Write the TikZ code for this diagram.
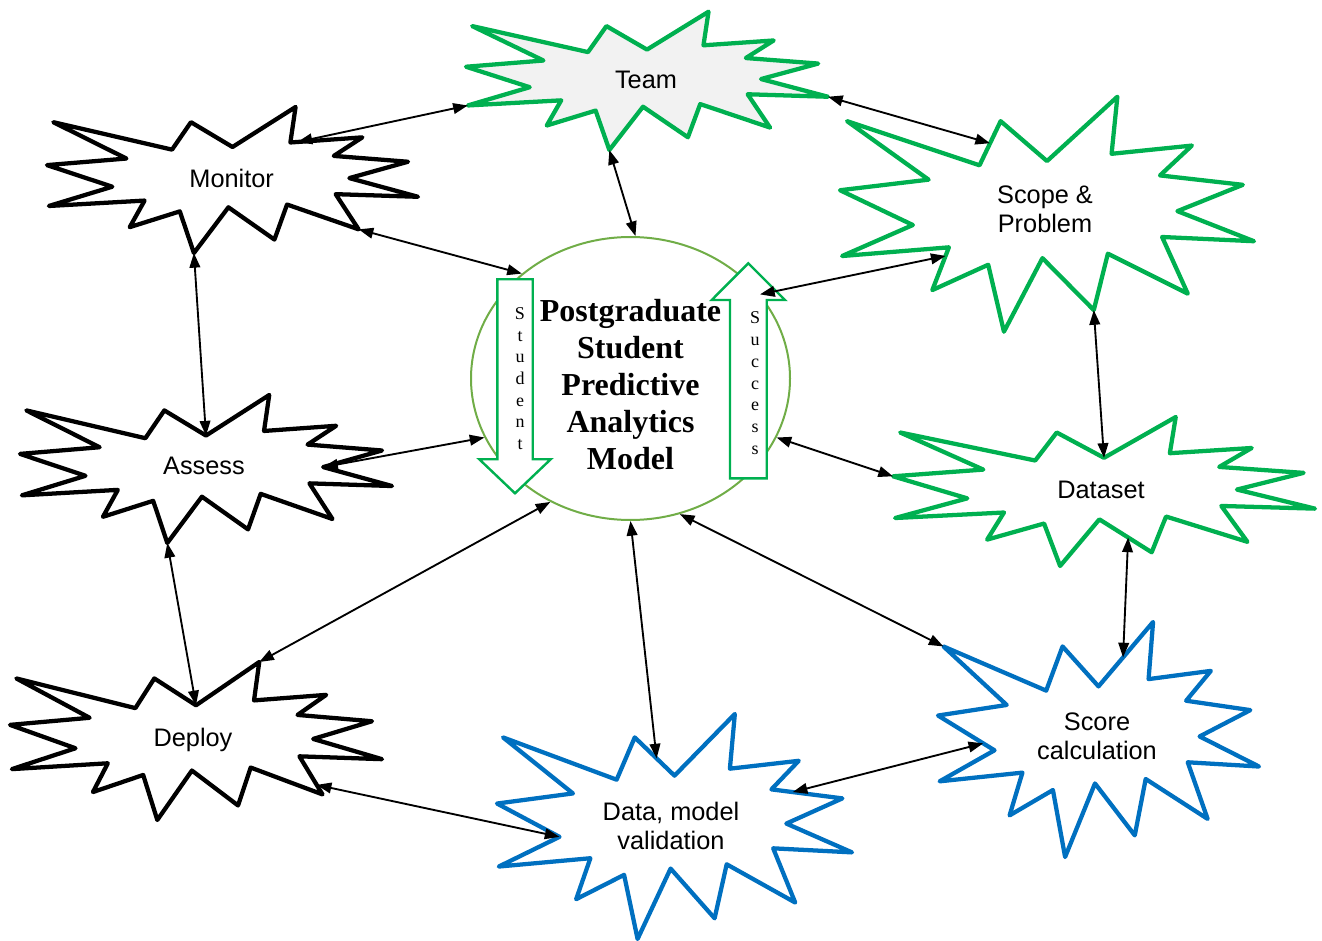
\documentclass[tikz,border=0pt]{standalone}
\usepackage{fontspec}
\setmainfont{Liberation Serif}
\setsansfont{Liberation Sans}
\usetikzlibrary{arrows.meta,calc,shapes.geometric}

\definecolor{burstgreen}{HTML}{00B050}
\definecolor{burstblue}{HTML}{0070C0}
\definecolor{ringgreen}{HTML}{70AD47}
\definecolor{teamgray}{HTML}{F2F2F2}

\tikzset{
  burst/.style={line width=3.2pt, line join=round, fill=white},
  blackburst/.style={burst, draw=black},
  greenburst/.style={burst, draw=burstgreen},
  blueburst/.style={burst, draw=burstblue},
  tag/.style={font=\sffamily\fontsize{19}{21.75}\selectfont, align=center, inner sep=0pt},
  link/.style={line width=1.4pt, {Triangle[length=11pt,width=8pt]}-{Triangle[length=11pt,width=8pt]}},
  flowarrow/.style={draw=burstgreen, line width=1.8pt, fill=white},
  spell/.style={font=\fontsize{13.5}{16}\selectfont, inner sep=0pt, anchor=base},
}

% starburst outline: name, left, top, width, height, style
\newcommand\burst[6]{%
  \foreach \bx/\by [count=\bi] in {0.017/0.104, 0.337/0.292, 0.388/0.104, 0.500/0.274,
      0.670/0, 0.656/0.243, 0.850/0.208, 0.773/0.335, 0.973/0.375, 0.815/0.487,
      1/0.615, 0.778/0.597, 0.840/0.838, 0.647/0.668, 0.613/0.908, 0.489/0.687,
      0.396/1, 0.358/0.715, 0.223/0.823, 0.263/0.641, 0.005/0.678, 0.176/0.546,
      0/0.398, 0.214/0.353}
    \coordinate (#1-\bi) at ({#2+\bx*#4},{#3+\by*#5});
  \draw[#6] (#1-1) \foreach \bi in {2,...,24} {-- (#1-\bi)} -- cycle;
}

\begin{document}
\begin{tikzpicture}[x=0.75pt,y=-0.75pt]
  \useasboundingbox (0,0) rectangle (1322,941);

  % the eight stages
  \burst{team}{466}{11.7}{362}{138.3}{greenburst, fill=teamgray}
  \burst{scope}{840}{96.7}{414}{235}{greenburst}
  \burst{dataset}{893}{417}{422}{149}{greenburst}
  \burst{monitor}{47}{107}{371}{146}{blackburst}
  \burst{assess}{20}{395}{372}{148}{blackburst}
  \burst{deploy}{10}{662}{372}{158}{blackburst}
  \burst{dataval}{497}{714}{355}{225}{blueburst}
  \burst{score}{938}{622}{321}{235}{blueburst}

  \node[tag] (teamtag) at (646,80) {Team};
  \node[tag] (scopetag) at (1045,209.5) {Scope \&\\Problem};
  \node[tag] (datasettag) at (1101,490) {Dataset};
  \node[tag] (monitortag) at (231.7,178.3) {Monitor};
  \node[tag] (assesstag) at (204,466) {Assess};
  \node[tag] (deploytag) at (193,740) {Deploy};
  \node[tag] (datavaltag) at (671,826) {Data, model\\validation};
  \node[tag] (scoretag) at (1097,736) {Score\\calculation};

  % centre model
  \node[ellipse, draw=ringgreen, line width=1.5pt, inner sep=0pt,
        minimum width=239.25pt, minimum height=212.25pt] (model) at (630.5,378.5) {};

  \draw[flowarrow] (497.3,279.3) -- (532.7,279.3) -- (532.7,459.3) -- (550.7,459.3)
    -- (515,493.3) -- (479.3,459.3) -- (497.3,459.3) -- cycle;
  \draw[flowarrow] (730,478.3) -- (766.7,478.3) -- (766.7,300) -- (785,300)
    -- (748.3,263.3) -- (711.7,300) -- (730,300) -- cycle;
  \foreach \ch [count=\ci] in {S,t,u,d,e,n,t}
    \node[spell] (student-\ci) at (520,297.8+21.7*\ci) {\ch};
  \foreach \ch [count=\ci] in {S,u,c,c,e,s,s}
    \node[spell] (success-\ci) at (755,302.3+21.7*\ci) {\ch};

  \node[font=\bfseries\fontsize{24}{27.75}\selectfont, align=center, inner sep=0pt]
    (title) at (630.5,384.5) {Postgraduate\\Student\\Predictive\\Analytics\\Model};

  % connectors
  \draw[link] (team-21) -- ($(monitor-6)!0.1!(monitor-7)$);
  \draw[link] (team-11) -- ($(scope-2)!0.5!(scope-3)$);
  \draw[link] (team-17) -- (model.88);
  \draw[link] (monitor-13) -- (model.136);
  \draw[link] (model.33) -- ($(scope-20)!0.2!(scope-19)$);
  \draw[link] (scope-15) -- (dataset-4);
  \draw[link] (monitor-17) -- (assess-4);
  \draw[link] (assess-10) -- (model.202);
  \draw[link] (assess-17) -- (deploy-4);
  \draw[link] (deploy-5) -- (model.237);
  \draw[link] ($(deploy-13)!0.25!(deploy-12)$) -- (dataval-22);
  \draw[link] (model.270) -- ($(dataval-3)!0.55!(dataval-4)$);
  \draw[link] (model.290) -- (score-1);
  \draw[link] (model.338) -- (dataset-23);
  \draw[link] ($(dataset-16)!0.55!(dataset-15)$) -- ($(score-4)!0.45!(score-5)$);
  \draw[link] ($(dataval-8)!0.3!(dataval-9)$) -- ($(score-22)!0.2!(score-23)$);
\end{tikzpicture}
\end{document}
